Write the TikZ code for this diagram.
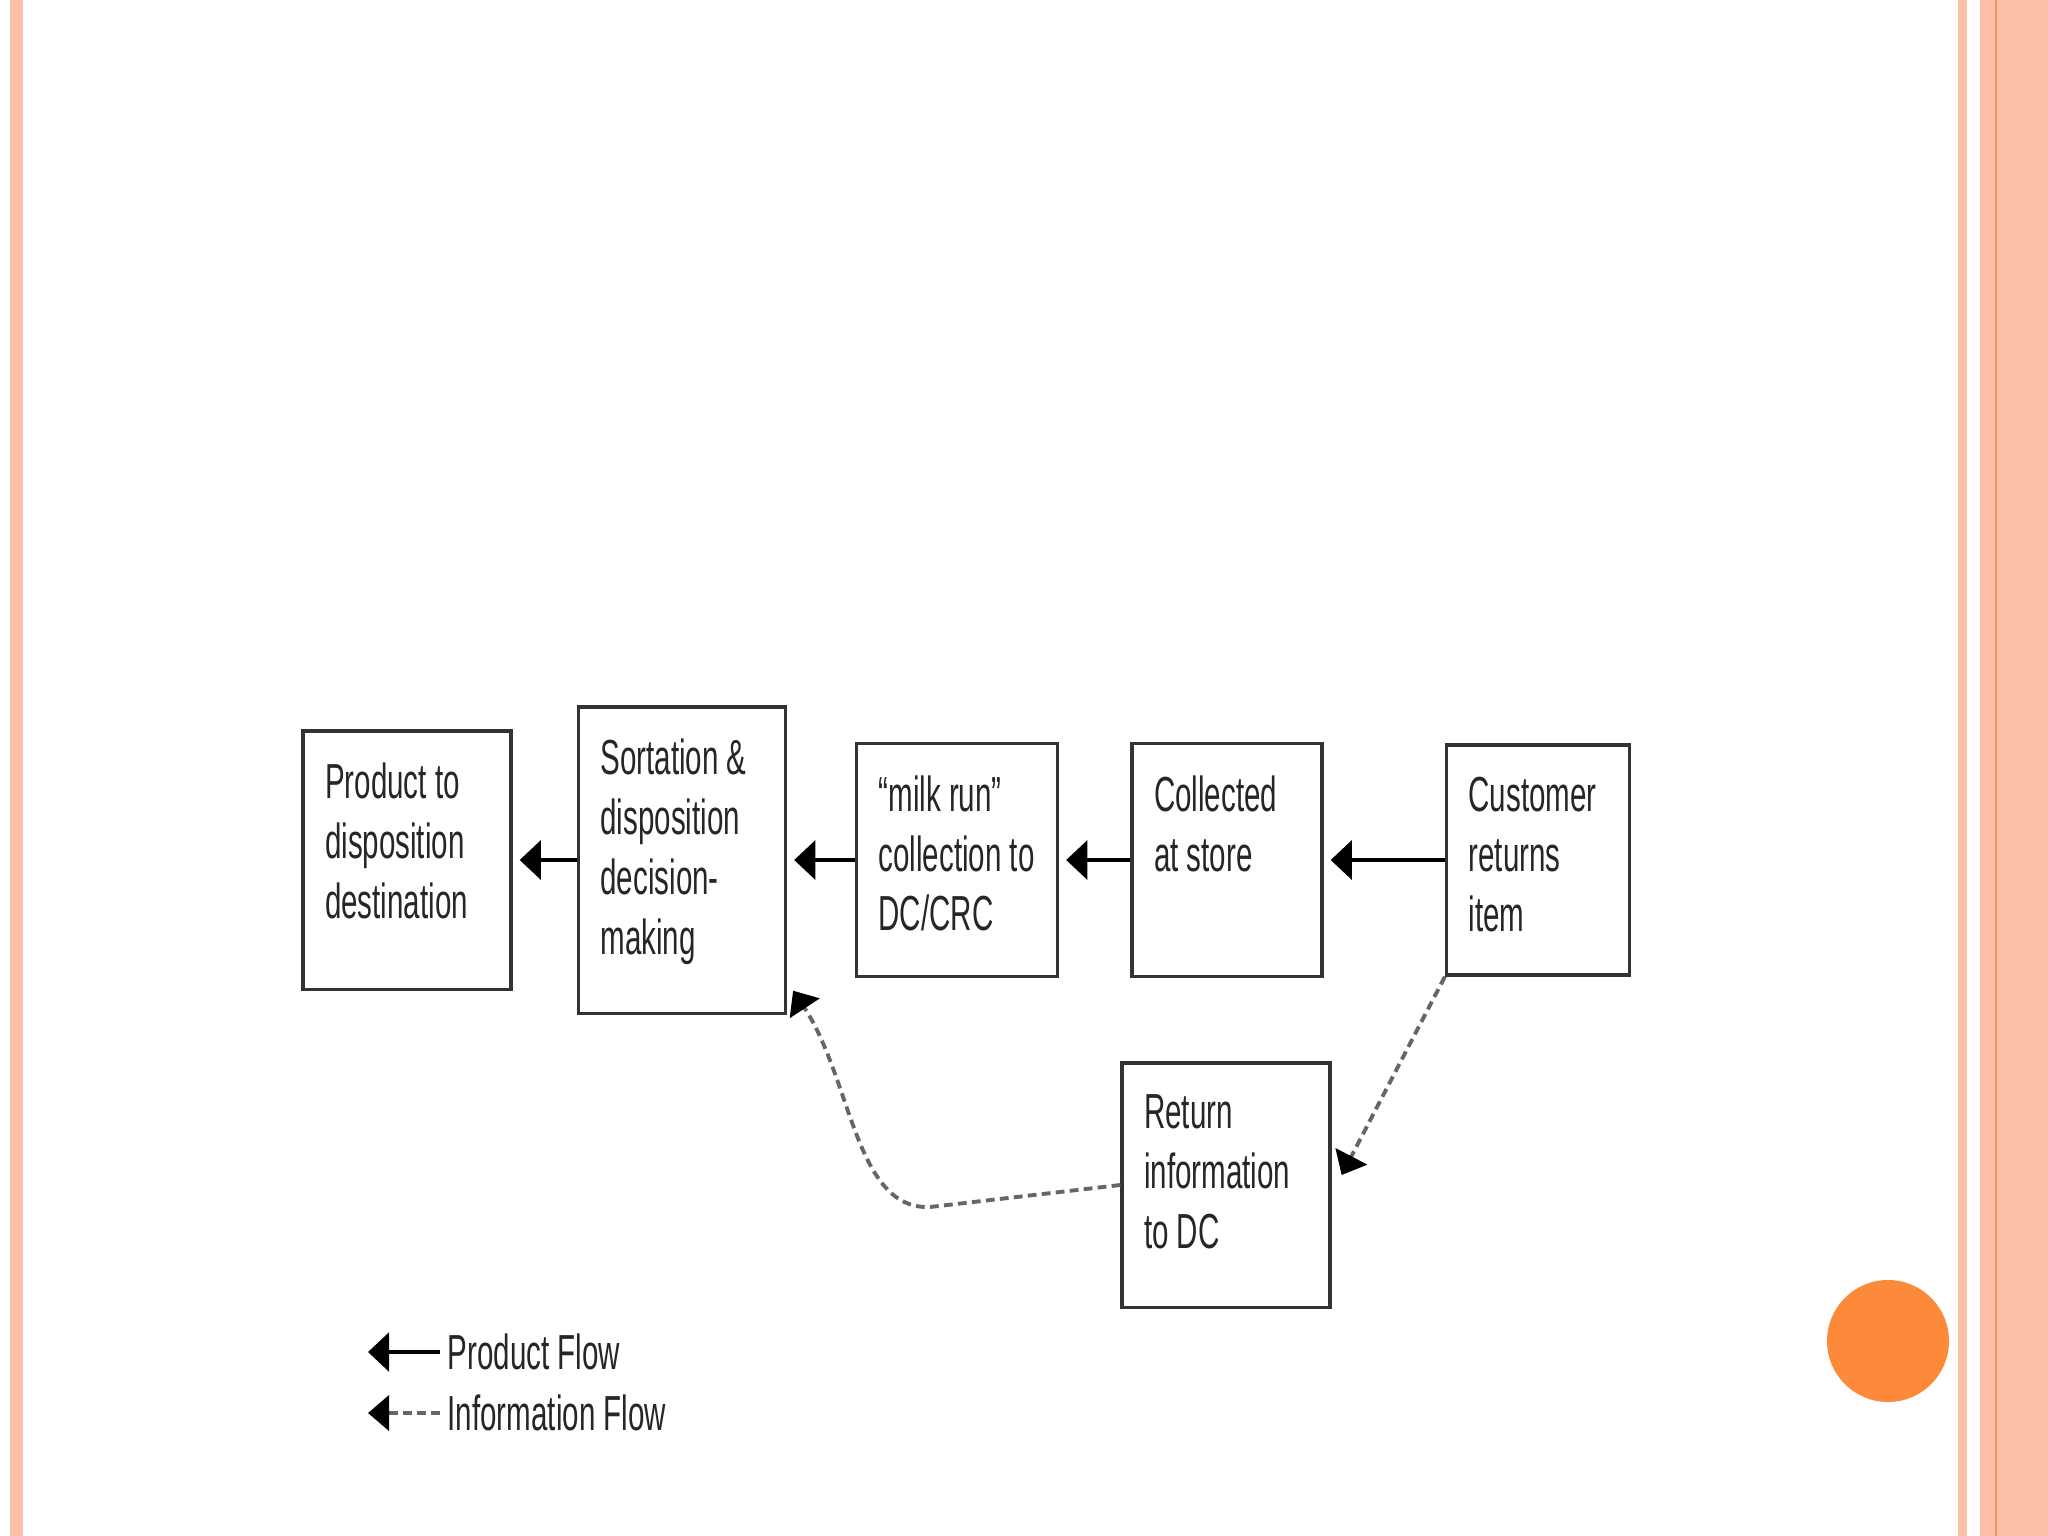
\documentclass[tikz,border=0pt]{standalone}
\usepackage{fontspec}
\newfontfamily\boxfont[FakeStretch=0.6]{Liberation Sans}
\usetikzlibrary{calc}
\usetikzlibrary{arrows.meta}

\definecolor{stripe}{RGB}{252,192,168}
\definecolor{stripeline}{RGB}{249,145,90}
\definecolor{dot}{RGB}{253,138,58}

\tikzset{
  blk/.style={draw=black!80, line width=0.9pt, fill=white},
  txt/.style={anchor=north west, inner sep=0pt, align=left,
    font=\boxfont\fontsize{14}{17}\selectfont, text=black!85},
  flow/.style={line width=1.1pt, arrows={-Triangle[width=11pt,length=6pt]}, shorten >=2pt},
  info/.style={line width=1.1pt, draw=black!60, dash pattern=on 2.5pt off 1.5pt,
    arrows={-Triangle[width=10pt,length=6pt,black]}},
}

\begin{document}
\begin{tikzpicture}[x=0.01cm, y=-0.01cm]
\useasboundingbox (0,0) rectangle (2048,1536);
\fill[white] (0,0) rectangle (2048,1536);

% slide frame
\fill[stripe] (10,0) rectangle (23,1536);
\fill[stripe] (1958,0) rectangle (1967,1536);
\fill[stripe] (1980,0) rectangle (2048,1536);
\fill[stripeline] (1995,0) rectangle (1997,1536);
\fill[dot] (1888,1341) circle [radius=61];

% boxes
\node[blk, minimum width=2.08cm, minimum height=2.58cm] (prod) at (407,860) {};
\node[blk, minimum width=2.07cm, minimum height=3.06cm] (sort) at (682,860) {};
\node[blk, minimum width=2.01cm, minimum height=2.33cm] (milk) at (957,860) {};
\node[blk, minimum width=1.90cm, minimum height=2.33cm] (coll) at (1227,860) {};
\node[blk, minimum width=1.83cm, minimum height=2.30cm] (cust) at (1538,860) {};
\node[blk, minimum width=2.08cm, minimum height=2.44cm] (rinf) at (1226,1185) {};

\node[txt] (prodtxt) at ($(prod.north west)+(23,33)$) {Product to\\disposition\\destination};
\node[txt] (sorttxt) at ($(sort.north west)+(23,33)$) {Sortation \&\\disposition\\decision-\\making};
\node[txt] (milktxt) at ($(milk.north west)+(23,33)$) {“milk run”\\collection to\\DC/CRC};
\node[txt] (colltxt) at ($(coll.north west)+(23,33)$) {Collected\\at store};
\node[txt] (custtxt) at ($(cust.north west)+(23,33)$) {Customer\\returns\\item};
\node[txt] (rinftxt) at ($(rinf.north west)+(23,33)$) {Return\\information\\to DC};

% product flow
\draw[flow] (sort) -- (prod);
\draw[flow] (milk) -- (sort);
\draw[flow] (coll) -- (milk);
\draw[flow] (cust) -- (coll);

% information flow
\coordinate (rinfin) at ($(rinf.east)+(10,-10)$);
\coordinate (sortin) at ($(sort.south east)+(6,-24)$);
\draw[info] (cust.south west) -- (rinfin);
\draw[info] (rinf.west) -- (930,1207) .. controls (855,1210) and (852,1080) .. (sortin);

% legend
\node[txt, anchor=west] (legprod) at (447,1352) {Product Flow};
\node[txt, anchor=west] (leginfo) at (447,1413) {Information Flow};
\coordinate (legprodtip) at (368,1352);
\coordinate (leginfotip) at (368,1413);
\draw[flow, shorten >=0pt, shorten <=2pt] (legprod.west) -- (legprodtip);
\draw[info, shorten <=2pt] (leginfo.west) -- (leginfotip);
\end{tikzpicture}
\end{document}
